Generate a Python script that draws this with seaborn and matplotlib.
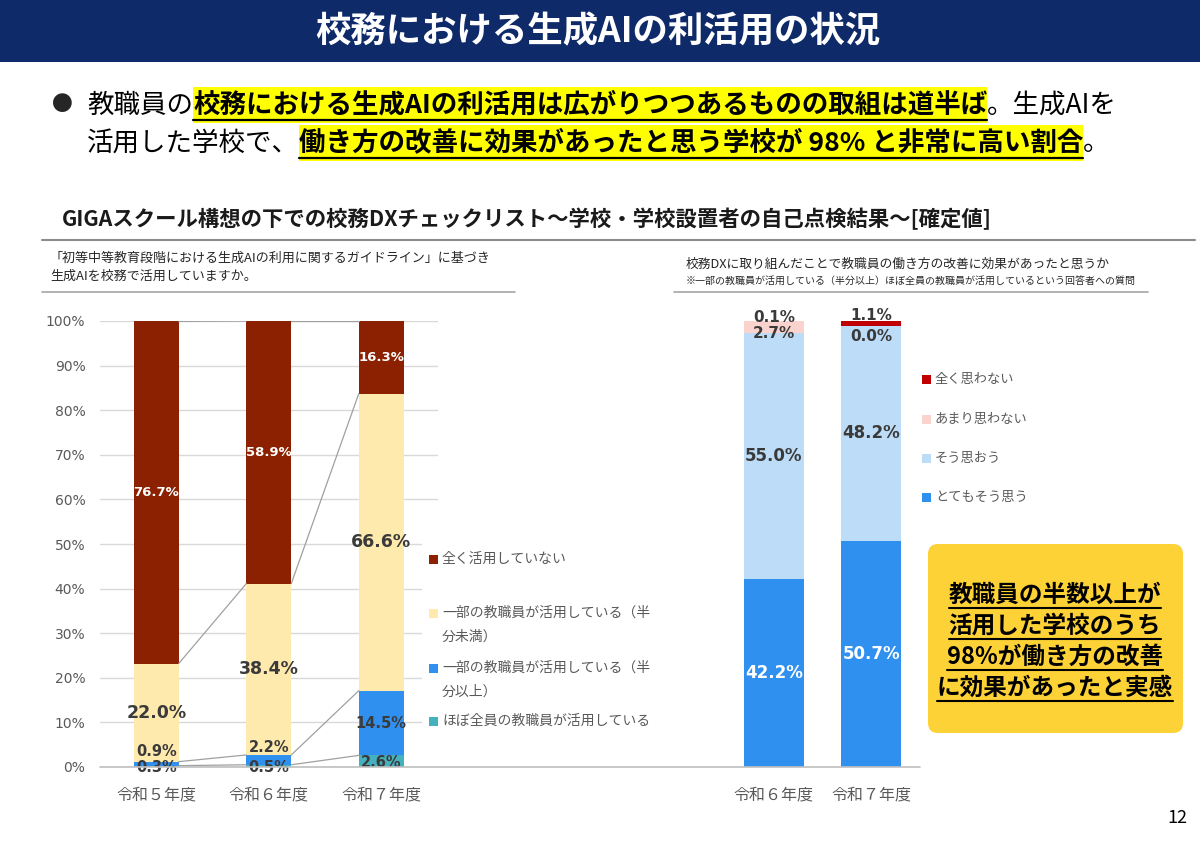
import numpy as np
import seaborn as sns
import matplotlib.pyplot as plt
from matplotlib.patches import Rectangle, FancyBboxPatch
from matplotlib.lines import Line2D

# 左のグラフ: 生成AIを校務で活用していますか
years_left = ['令和５年度', '令和６年度', '令和７年度']
use_labels = ['ほぼ全員の教職員が活用している',
              '一部の教職員が活用している（半\n分以上）',
              '一部の教職員が活用している（半\n分未満）',
              '全く活用していない']
use_all = [0.3, 0.5, 2.6]
use_half_over = [0.9, 2.2, 14.5]
use_half_under = [22.0, 38.4, 66.6]
use_none = [76.7, 58.9, 16.3]

# 右のグラフ: 働き方の改善に効果があったと思うか
years_right = ['令和６年度', '令和７年度']
eff_labels = ['とてもそう思う', 'そう思おう', 'あまり思わない', '全く思わない']
eff_very = [42.2, 50.7]
eff_yes = [55.0, 48.2]
eff_not_much = [2.7, 0.0]
eff_not_at_all = [0.1, 1.1]

left_colors = ['#45B0BE', '#3090F0', '#FFEAAD', '#8B2100']
right_colors = ['#3090F0', '#BDDCF8', '#FAD3CE', '#C00000']

sns.set_style('white')
plt.rcParams['font.family'] = ['Noto Sans CJK JP', 'DejaVu Sans']

W, H = 1200, 849
fig = plt.figure(figsize=(W / 100, H / 100), dpi=100)
tr = fig.dpi_scale_trans
renderer = fig.canvas.get_renderer()


def ftext(x, y, s, **kw):
    return fig.text(x / 100, (H - y) / 100, s, transform=tr, **kw)


def hline(x0, x1, y, color='#A6A6A6', lw=1.2):
    fig.add_artist(Line2D([x0 / 100, x1 / 100], [(H - y) / 100] * 2,
                          transform=tr, color=color, lw=lw))


def rect(x, y, w, h, color, z=1):
    fig.add_artist(Rectangle((x / 100, (H - y - h) / 100), w / 100, h / 100,
                             transform=tr, color=color, lw=0, zorder=z))


# ヘッダー
rect(0, 0, W, 62, '#0F2A69')
ftext(598, 32, '校務における生成AIの利活用の状況', color='white',
      fontsize=25.5, fontweight='bold', ha='center', va='center')


def segments(x, y, parts, size):
    for s, strong in parts:
        t = ftext(x, y, s, fontsize=size, va='center', ha='left', zorder=3,
                  fontweight='bold' if strong else 'normal', color='black')
        w = t.get_window_extent(renderer).width
        if strong:
            rect(x, y - 18, w, 36, '#FFFF00', z=2)
            hline(x, x + w, y + 15, color='black', lw=1.6)
        x += w
    return x


ftext(52, 105, '●', fontsize=15, va='center', ha='left')
segments(87, 105, [('教職員の', False),
                   ('校務における生成AIの利活用は広がりつつあるものの取組は道半ば', True),
                   ('。生成AIを', False)], 19.1)
segments(87, 143, [('活用した学校で、', False),
                   ('働き方の改善に効果があったと思う学校が 98% と非常に高い割合', True),
                   ('。', False)], 19.1)

# セクション見出し
ftext(62, 219, 'GIGAスクール構想の下での校務DXチェックリスト〜学校・学校設置者の自己点検結果〜[確定値]',
      fontsize=15.4, fontweight='bold', va='center', ha='left', color='#1A1A1A')
hline(42, 1195, 240, color='#8C8C8C', lw=1.5)

ftext(50, 258, '「初等中等教育段階における生成AIの利用に関するガイドライン」に基づき',
      fontsize=9.4, va='center', color='#262626')
ftext(50, 276, '生成AIを校務で活用していますか。', fontsize=9.4, va='center', color='#262626')
hline(42, 515, 292)

ftext(686, 264, '校務DXに取り組んだことで教職員の働き方の改善に効果があったと思うか',
      fontsize=9.2, va='center', color='#262626')
ftext(686, 281, '※一部の教職員が活用している（半分以上）ほぼ全員の教職員が活用しているという回答者への質問',
      fontsize=7.2, va='center', color='#262626')
hline(674, 1148, 292)

# 軸
ax1 = fig.add_axes([100 / W, (H - 767) / H, 337.5 / W, 446 / H])
ax2 = fig.add_axes([725 / W, (H - 767) / H, 195 / W, 446 / H])


def stacked(ax, cats, series, colors, width):
    bottom = np.zeros(len(cats))
    tops = []
    for vals, col in zip(series, colors):
        sns.barplot(x=cats, y=vals, bottom=bottom, color=col, width=width,
                    saturation=1, errorbar=None, linewidth=0, ax=ax, zorder=2)
        bottom = bottom + np.array(vals)
        tops.append(bottom.copy())
    return tops


left_series = [use_all, use_half_over, use_half_under, use_none]
right_series = [eff_very, eff_yes, eff_not_much, eff_not_at_all]
w1, w2 = 0.4, 0.62
tops1 = stacked(ax1, years_left, left_series, left_colors, w1)
tops2 = stacked(ax2, years_right, right_series, right_colors, w2)

# 系列線
for top in tops1:
    for i in range(len(years_left) - 1):
        ax1.plot([i + w1 / 2, i + 1 - w1 / 2], [top[i], top[i + 1]],
                 color='#A0A0A0', lw=0.9, zorder=3)

# データラベル
dark = '#3A3A3A'
left_style = [(dark, 10.5), (dark, 10.5), (dark, 12.5), ('white', 9.5)]
left_nudge = {(0, 0): 0.0, (0, 1): 0.0, (0, 2): 1.1,
              (1, 0): 3.4, (1, 1): 4.3}
for k, vals in enumerate(left_series):
    col, size = left_style[k]
    for i, v in enumerate(vals):
        yy = left_nudge.get((k, i), tops1[k][i] - v / 2)
        ax1.text(i, yy, f'{v:.1f}%', ha='center', va='center', color=col,
                 fontsize=size, fontweight='bold', family='DejaVu Sans',
                 zorder=4, clip_on=False)

right_style = [('white', 12), (dark, 12), (dark, 11), (dark, 11)]
right_nudge = {(2, 0): 97.3, (2, 1): 96.6, (3, 0): 100.7, (3, 1): 101.3}
for k, vals in enumerate(right_series):
    col, size = right_style[k]
    for i, v in enumerate(vals):
        yy = right_nudge.get((k, i), tops2[k][i] - v / 2)
        ax2.text(i, yy, f'{v:.1f}%', ha='center', va='center', color=col,
                 fontsize=size, fontweight='bold', family='DejaVu Sans',
                 zorder=4, clip_on=False)

gray = '#595959'
for ax in (ax1, ax2):
    ax.set_ylim(0, 100)
    ax.set_xlabel('')
    ax.set_ylabel('')
    for s in ax.spines.values():
        s.set_visible(False)
    ax.patch.set_alpha(0)

ax1.set_xlim(-0.5, 2.5)
ax1.set_yticks(range(0, 101, 10), [f'{v}%' for v in range(0, 101, 10)],
               family='DejaVu Sans')
ax1.set_xticks(range(3), years_left)
ax1.yaxis.grid(True, color='#D9D9D9', lw=1, zorder=0)
ax1.set_axisbelow(True)
ax1.tick_params(axis='y', length=0, pad=10.5, labelsize=10, labelcolor=gray)
ax1.tick_params(axis='x', length=0, pad=14, labelsize=11.5, labelcolor=gray)

ax2.set_xlim(-0.5, 1.5)
ax2.set_yticks([])
ax2.set_xticks(range(2), years_right)
ax2.set_xticks([-0.5, 0.5, 1.5], minor=True)
ax2.tick_params(axis='x', which='major', length=0, pad=14, labelsize=11.5, labelcolor=gray)
ax2.tick_params(axis='x', which='minor', length=6, width=1, color='#BFBFBF', direction='out')

# 基線
hline(100, 920, 767, color='#BFBFBF', lw=1.2)
rect(422, 530, 16, 215, 'white', z=1)

# 凡例 (左)
left_leg_y = [559, 613, 668, 721]
for lab, col, yy in zip(use_labels[::-1], left_colors[::-1], left_leg_y):
    rect(429, yy - 4.5, 9, 9, col, z=2)
    ftext(442, yy, lab.split('\n')[0], fontsize=10, va='center', color=gray)
    if '\n' in lab:
        ftext(442, yy + 24, lab.split('\n')[1], fontsize=10, va='center', color=gray)

# 凡例 (右)
right_leg_y = [379, 419, 458, 497]
for lab, col, yy in zip(eff_labels[::-1], right_colors[::-1], right_leg_y):
    rect(922, yy - 4.5, 9, 9, col, z=2)
    ftext(935, yy, lab, fontsize=9.5, va='center', color=gray)

# 吹き出し
fig.add_artist(FancyBboxPatch((928 / 100, (H - 733) / 100), 2.55, 1.89,
                              boxstyle='round,pad=0,rounding_size=0.1',
                              transform=tr, fc='#FDD236', ec='none', zorder=1))
box_lines = ['教職員の半数以上が', '活用した学校のうち', '98%が働き方の改善', 'に効果があったと実感']
for s, yy in zip(box_lines, [595, 626, 657, 688]):
    t = ftext(1055, yy, s, fontsize=17, fontweight='bold', ha='center',
              va='center', color='black', zorder=3)
    w = t.get_window_extent(renderer).width
    hline(1055 - w / 2, 1055 + w / 2, yy + 13, color='black', lw=1.5)

ftext(1187, 818, '12', fontsize=13, ha='right', va='center', color='black')

fig.savefig('out.png', dpi=100)
